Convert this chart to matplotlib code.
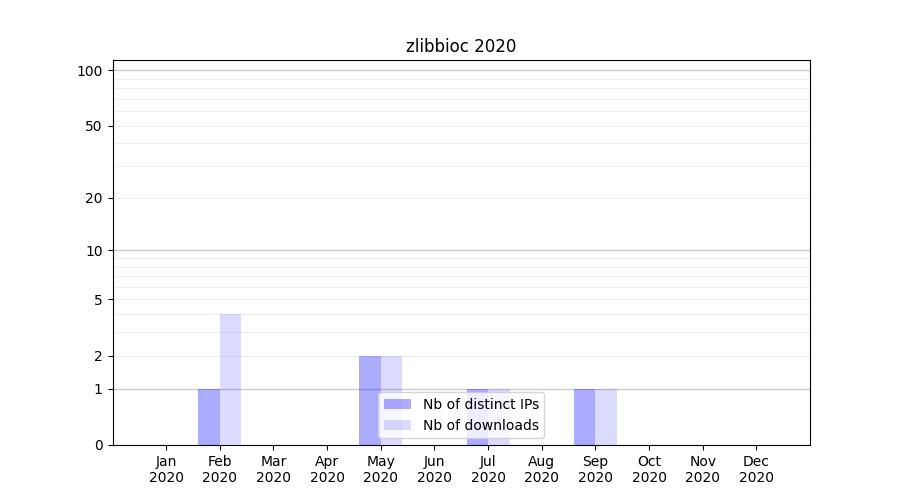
import numpy as np
from matplotlib import pyplot as plt

months = ["Jan", "Feb", "Mar", "Apr", "May", "Jun",
          "Jul", "Aug", "Sep", "Oct", "Nov", "Dec"]
year = "2020"
distinct_ips = [0, 1, 0, 0, 2, 0, 1, 0, 1, 0, 0, 0]
downloads = [0, 4, 0, 0, 2, 0, 1, 0, 1, 0, 0, 0]
ytick_values = [0, 1, 2, 5, 10, 20, 50, 100]


def fwd(y):
    return np.log10(1 + np.clip(y, 0, None))


def inv(y):
    return 10 ** y - 1


fig, ax = plt.subplots(figsize=(9, 5), dpi=100)
ax.set_yscale("function", functions=(fwd, inv))

# light lines between decades, darker ones on the decades
for d in [1, 10]:
    for k in range(2, 10):
        ax.axhline(d * k, color="#eeeeee", lw=0.8, zorder=0)
for d in [1, 10, 100]:
    ax.axhline(d, color="#cccccc", lw=1.0, zorder=0)

x = np.arange(len(months))
ax.bar(x - 0.2, distinct_ips, width=0.4, color="blue", alpha=0.33,
       label="Nb of distinct IPs")
ax.bar(x + 0.2, downloads, width=0.4, color="blue", alpha=0.14,
       label="Nb of downloads")

ax.set_xticks(x)
ax.set_xticklabels([f"{m}\n{year}" for m in months])
ax.set_xlim(-1, 12)
ax.set_yticks(ytick_values)
ax.set_yticklabels([str(v) for v in ytick_values])
ax.minorticks_off()
ax.set_ylim(0, 113.5)

ax.set_title("zlibbioc 2020")
ax.legend(loc="lower center")

plt.savefig("out.png")
